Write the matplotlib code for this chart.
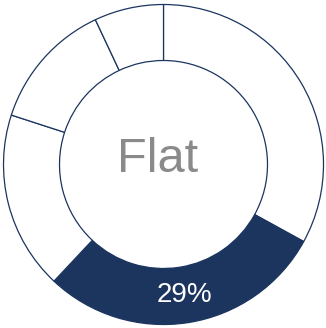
import matplotlib
matplotlib.use("Agg")
import matplotlib.pyplot as plt

# donut segments, clockwise from 12 o'clock
shares = [33, 29, 18, 13, 7]
highlight = 1
center_label = "Flat"

navy = "#1b355f"
colors = ["white"] * len(shares)
colors[highlight] = navy

plt.rcParams["font.family"] = ["Liberation Sans", "DejaVu Sans"]

fig = plt.figure(figsize=(3.26, 3.28), dpi=100)
ax = fig.add_axes([0, 0, 1, 1])

wedges, texts, autotexts = ax.pie(
    shares, colors=colors, startangle=90, counterclock=False, radius=1.0,
    wedgeprops=dict(width=0.35, edgecolor=navy, linewidth=0.9),
    autopct=lambda p: "", pctdistance=0.825,
)

# value label on the highlighted slice only
autotexts[highlight].set_text(f"{shares[highlight]}%")
autotexts[highlight].set_color("white")
autotexts[highlight].set_fontsize(20)
autotexts[highlight].set_va("center")

ax.text(-0.04, 0.03, center_label, ha="center", va="center",
        fontsize=35, color="#8a8a8a")

ax.set_xlim(-163.5 / 160, 162.5 / 160)
ax.set_ylim(-163.5 / 160, 164.5 / 160)
ax.set_aspect("equal", adjustable="box")
ax.axis("off")

fig.savefig("out.png", dpi=100)
